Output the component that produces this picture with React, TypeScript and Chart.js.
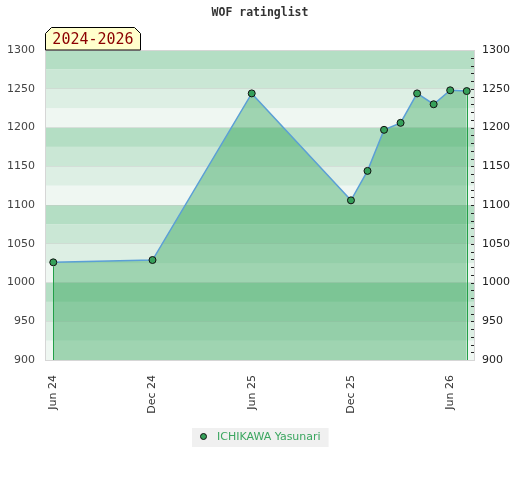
import { useEffect, useRef } from "react";
import { Chart, registerables } from "chart.js";

Chart.register(...registerables);

const TITLE = "WOF ratinglist";
const PERIOD = "2024-2026";
const PLAYER = "ICHIKAWA Yasunari";

// months counted from Jun 2024
const monthIndex = [0, 6, 12, 18, 19, 20, 21, 22, 23, 24, 25];
const ratings = [1026, 1029, 1244, 1106, 1144, 1197, 1206, 1244, 1230, 1248, 1247];
const tickMonths = [0, 6, 12, 18, 24];
const tickLabels = ["Jun 24", "Dec 24", "Jun 25", "Dec 25", "Jun 26"];

const Y_MIN = 900;
const Y_MAX = 1300;
const Y_STEP = 50;
const BAND_STEP = 25;
const MINOR_STEP = 10;
const X_MIN = -0.5;
const X_MAX = 25.5;

const BAND_COLORS = ["#eff7f2", "#ddefe4", "#cae7d5", "#b4dec4"];
const POINT_COLOR = "#36a05a";
const LINE_COLOR = "#5b9fd6";
const FILL_COLOR = "rgba(40,160,80,0.4)";
const DROP_COLOR = "#22a048";
const LEGEND_TEXT = "#3aa65f";

const decor = {
  id: "decor",
  beforeDraw(chart: any) {
    const { ctx, chartArea: a, scales } = chart;
    const y = scales.y;
    ctx.save();
    for (let v = Y_MIN; v < Y_MAX; v += BAND_STEP) {
      const idx = Math.round((v - Y_MIN) / BAND_STEP) % 4;
      const top = y.getPixelForValue(v + BAND_STEP);
      const bot = y.getPixelForValue(v);
      ctx.fillStyle = BAND_COLORS[idx];
      ctx.fillRect(a.left, top, a.right - a.left, bot - top);
    }
    ctx.restore();
  },
  afterDatasetsDraw(chart: any) {
    const { ctx, chartArea: a, scales } = chart;
    const y = scales.y;
    const meta = chart.getDatasetMeta(0);
    const pts = meta.data;
    ctx.save();
    ctx.strokeStyle = DROP_COLOR;
    ctx.lineWidth = 1;
    [pts[0], pts[pts.length - 1]].forEach((p: any) => {
      const x = Math.round(p.x) + 0.5;
      ctx.beginPath();
      ctx.moveTo(x, p.y + 4);
      ctx.lineTo(x, a.bottom);
      ctx.stroke();
    });
    ctx.strokeStyle = "#222";
    for (let v = Y_MIN + MINOR_STEP; v < Y_MAX; v += MINOR_STEP) {
      const py = Math.round(y.getPixelForValue(v)) + 0.5;
      ctx.beginPath();
      ctx.moveTo(a.right - 4, py);
      ctx.lineTo(a.right, py);
      ctx.stroke();
    }
    ctx.strokeStyle = "#d6d6d6";
    ctx.strokeRect(a.left + 0.5, a.top + 0.5, a.right - a.left - 1, a.bottom - a.top);
    ctx.restore();
  },
  afterDraw(chart: any) {
    const { ctx, chartArea: a } = chart;
    const w = chart.width;
    ctx.save();
    ctx.font = 'bold 11.5px "DejaVu Sans Mono"';
    ctx.fillStyle = "#333";
    ctx.textAlign = "center";
    ctx.textBaseline = "middle";
    ctx.fillText(TITLE, w / 2, 13);

    const bl = a.left + 0.5;
    const br = a.left + 95.5;
    const bt = 27.5;
    const bb = a.top;
    const c = 6;
    ctx.beginPath();
    ctx.moveTo(bl, bb);
    ctx.lineTo(bl, bt + c);
    ctx.lineTo(bl + c, bt);
    ctx.lineTo(br - c, bt);
    ctx.lineTo(br, bt + c);
    ctx.lineTo(br, bb);
    ctx.closePath();
    ctx.fillStyle = "#ffffcc";
    ctx.fill();
    ctx.strokeStyle = "#000";
    ctx.lineWidth = 1;
    ctx.stroke();
    ctx.font = '15px "DejaVu Sans Mono"';
    ctx.fillStyle = "#8b0000";
    ctx.textAlign = "center";
    ctx.fillText(PERIOD, (bl + br) / 2, 40.5);

    ctx.font = '11px "DejaVu Sans"';
    const tw = ctx.measureText(PLAYER).width;
    const boxW = 8 + 7 + 10 + tw + 8;
    const boxH = 19;
    const lx = Math.round(w / 2 - boxW / 2);
    const ly = 428;
    ctx.fillStyle = "#f0f0f0";
    ctx.fillRect(lx, ly, boxW, boxH);
    ctx.beginPath();
    ctx.arc(lx + 11.5, ly + 8.5, 3, 0, Math.PI * 2);
    ctx.fillStyle = POINT_COLOR;
    ctx.fill();
    ctx.strokeStyle = "#111";
    ctx.stroke();
    ctx.fillStyle = LEGEND_TEXT;
    ctx.textAlign = "left";
    ctx.textBaseline = "middle";
    ctx.fillText(PLAYER, lx + 25, ly + 9.5);
    ctx.restore();
  },
};

export default function App() {
  const ref = useRef<HTMLCanvasElement | null>(null);

  useEffect(() => {
    if (!ref.current) return;
    const chart = new Chart(ref.current, {
      type: "line",
      data: {
        datasets: [
          {
            label: PLAYER,
            data: monthIndex.map((m, i) => ({ x: m, y: ratings[i] })),
            borderColor: LINE_COLOR,
            borderWidth: 1.5,
            backgroundColor: FILL_COLOR,
            fill: "start",
            tension: 0,
            pointRadius: 3.5,
            pointBackgroundColor: POINT_COLOR,
            pointBorderColor: "#111",
            pointBorderWidth: 1,
          },
        ],
      },
      options: {
        animation: false,
        responsive: true,
        maintainAspectRatio: false,
        layout: { padding: { top: 50, left: 0, right: 0, bottom: 0 } },
        plugins: {
          legend: { display: false },
          title: { display: false },
          tooltip: { enabled: false },
        },
        scales: {
          x: {
            type: "linear",
            min: X_MIN,
            max: X_MAX,
            afterBuildTicks: (s: any) => {
              s.ticks = tickMonths.map((v) => ({ value: v }));
            },
            afterFit: (s: any) => {
              s.height = 120;
            },
            grid: { display: false },
            border: { display: false },
            ticks: {
              autoSkip: false,
              minRotation: 90,
              maxRotation: 90,
              padding: 7,
              color: "#333",
              font: { family: "DejaVu Sans", size: 11 },
              callback: (v: any) => {
                const i = tickMonths.indexOf(Number(v));
                return i >= 0 ? tickLabels[i] : "";
              },
            },
          },
          y: {
            position: "left",
            min: Y_MIN,
            max: Y_MAX,
            afterFit: (s: any) => {
              s.width = 45;
            },
            grid: { color: "rgba(200,200,200,0.45)", drawTicks: false },
            border: { display: false },
            ticks: {
              stepSize: Y_STEP,
              padding: 10,
              color: "#444",
              font: { family: "DejaVu Sans", size: 11 },
              callback: (v: any) => String(v),
            },
          },
          y2: {
            position: "right",
            min: Y_MIN,
            max: Y_MAX,
            afterFit: (s: any) => {
              s.width = 45;
            },
            grid: { display: false, drawTicks: false },
            border: { display: false },
            ticks: {
              stepSize: Y_STEP,
              padding: 7,
              color: "#222",
              font: { family: "DejaVu Sans", size: 11 },
              callback: (v: any) => String(v),
            },
          },
        },
      },
      plugins: [decor],
    });
    return () => chart.destroy();
  }, []);

  return (
    <div style={{ position: "absolute", left: 0, top: 0, width: 520, height: 480 }}>
      <canvas ref={ref} />
    </div>
  );
}
